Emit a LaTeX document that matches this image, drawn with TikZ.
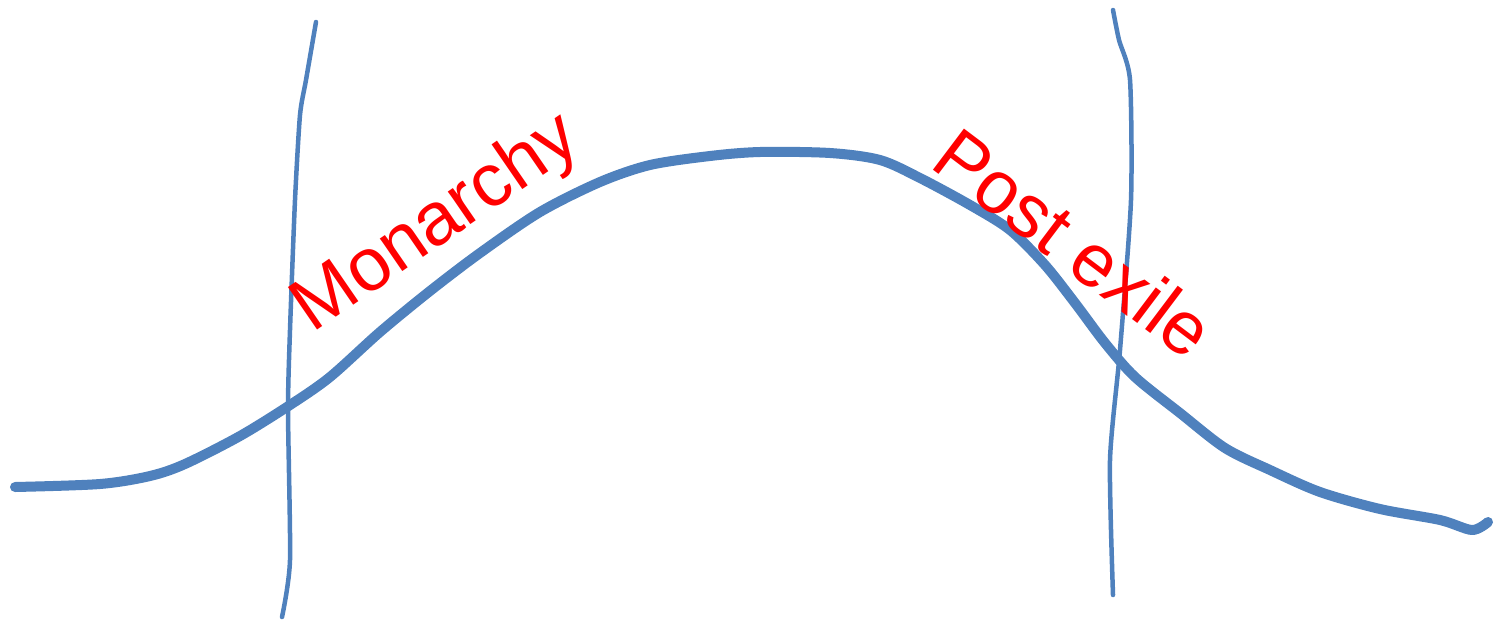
\documentclass[tikz,border=0pt]{standalone}
\usepackage{fontspec}
\setmainfont{Liberation Sans}
\definecolor{penblue}{RGB}{79,129,189}
\begin{document}
\begin{tikzpicture}[x=0.01cm, y=-0.01cm,
  every node/.style={font=\fontsize{21.3pt}{22pt}\selectfont},
  bigline/.style={penblue, line width=0.1cm, line cap=round, line join=round},
  divider/.style={penblue, line width=0.045cm, line cap=round},
  era/.style={text=red, inner sep=0pt}]
  \useasboundingbox (0,0) rectangle (1497,624);
  % the rise and fall
  \draw[bigline] plot[smooth, tension=0.5] coordinates {
    (15,487) (100,484) (150,476) (185,464) (240,436) (290,405) (330,377)
    (380,332) (430,291) (480,253) (540,212) (600,182) (650,165) (710,156)
    (760,152) (830,153) (880,160) (920,178) (970,205) (1010,230) (1045,265)
    (1075,303) (1105,343) (1135,377) (1180,413) (1225,448) (1270,470)
    (1320,492) (1380,509) (1440,520) (1472,530) (1488,522)};
  % period boundaries
  \draw[divider] plot[smooth, tension=0.4] coordinates {
    (316,22) (306,80) (300,115) (295,200) (290,330) (288,410) (290,560) (282,617)};
  \draw[divider] plot[smooth, tension=0.4] coordinates {
    (1113,10) (1119,40) (1130,80) (1131,200) (1120,350) (1110,460) (1113,595)};
  % labels
  \node[era, anchor=base west, rotate=34.5] (monarchy) at (312,334) {Monarchy};
  \node[era, anchor=base west, rotate=-37] (postexile) at (928,166) {Post exile};
\end{tikzpicture}
\end{document}
